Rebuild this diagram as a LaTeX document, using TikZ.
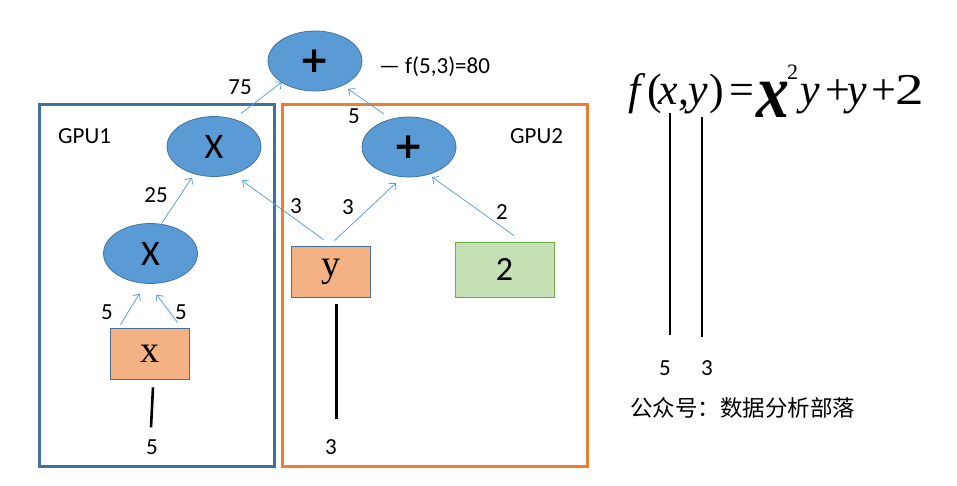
\documentclass[tikz,border=0pt]{standalone}
\usepackage{graphicx}
\usepackage{fontspec}
\setmainfont{Carlito}
\newfontfamily\seriffont{Liberation Serif}
\newfontfamily\cjkfont{Noto Sans CJK SC}
\newfontfamily\dvfont{DejaVu Sans}
\usetikzlibrary{shapes.geometric,arrows.meta,calc}
\definecolor{ellfill}{HTML}{5B9BD5}
\definecolor{elldraw}{HTML}{41719C}
\definecolor{gpublue}{HTML}{41719C}
\definecolor{gpuorange}{HTML}{ED7D31}
\definecolor{boxfill}{HTML}{F4B183}
\definecolor{greenfill}{HTML}{C5E0B4}
\definecolor{greendraw}{HTML}{70AD47}
\definecolor{arrcol}{HTML}{5B9BD5}
\begin{document}
\begin{tikzpicture}[x=1pt,y=-1pt,
  op/.style={ellipse, draw=elldraw, line width=0.75pt, fill=ellfill, minimum width=94pt, minimum height=60pt, inner sep=0pt},
  optext/.style={font=\fontsize{36}{36}\selectfont},
  plustext/.style={font=\dvfont\bfseries\fontsize{36}{36}\selectfont},
  varbox/.style={draw=elldraw, line width=0.75pt, fill=boxfill, minimum width=79pt, minimum height=51pt, inner sep=0pt, font=\seriffont\fontsize{38}{38}\selectfont},
  constbox/.style={draw=greendraw, line width=0.75pt, fill=greenfill, minimum width=99pt, minimum height=55pt, inner sep=0pt, font=\fontsize{34}{34}\selectfont},
  gpuone/.style={draw=gpublue, line width=3pt, minimum width=235pt, minimum height=361pt, inner sep=0pt},
  gputwo/.style={draw=gpuorange, line width=3pt, minimum width=305pt, minimum height=361pt, inner sep=0pt},
  lbl/.style={font=\fontsize{23}{23}\selectfont, inner sep=0pt},
  arr/.style={draw=arrcol, line width=0.75pt, -{Straight Barb[length=5pt,width=9pt]}},
  wire/.style={draw=black, line width=2.6pt}
]
\useasboundingbox (0,0) rectangle (957,486);

% GPU containers
\node[gpuone] (g1) at (156.5,285.5) {};
\node[gputwo] (g2) at (434.5,285.5) {};

% operation nodes
\node[op, plustext] (Ptop) at (315,61) {+};
\node[op, optext] (Xu) at (214,146.5) {X};
\node[op, plustext] (Pr) at (409,147) {+};
\node[op, optext] (Xl) at (150.5,253.5) {X};

% variable / constant boxes
\node[varbox] (xbox) at (150,353.5) {x};
\node[varbox] (ybox) at (331,271.5) {y};
\node[constbox] (tbox) at (504.5,269.5) {2};

% labels
\node[lbl] (lg1) at (84.5,136.5) {GPU1};
\node[lbl] (lg2) at (536.5,136) {GPU2};
\node[lbl] (l75) at (240,87.5) {75};
\node[lbl] (l5a) at (354,116) {5};
\node[lbl] (l25) at (156,195) {25};
\node[lbl] (l3a) at (296,206) {3};
\node[lbl] (l3b) at (348,207) {3};
\node[lbl] (l2) at (502,212) {2};
\node[lbl] (l5b) at (107,312) {5};
\node[lbl] (l5c) at (181,312) {5};
\node[lbl, anchor=west] (lres) at (379,67) {— f(5,3)=80};
\node[lbl] (lx5) at (152,447) {5};
\node[lbl] (ly3) at (331,447) {3};

% arrows
\draw[arr] ($(Xu)+(27,-33)$) -- ($(Ptop)+(-33,21)$);
\draw[arr] ($(Pr)+(-25,-33)$) -- ($(Ptop)+(33,28)$);
\draw[arr] ($(Xl)+(11,-30)$) -- ($(Xu)+(-22,31)$);
\draw[arr] ($(ybox.north)+(-7.5,-6)$) -- ($(Xu)+(28,34)$);
\draw[arr] ($(ybox.north)+(3.5,-5)$) -- ($(Pr)+(-13,36)$);
\draw[arr] ($(tbox.north)+(9.5,-6)$) -- ($(Pr)+(23,30)$);
\draw[arr] ($(xbox.north)+(-29.5,-3)$) -- ($(Xl)+(-11,40)$);
\draw[arr] ($(xbox.north)+(27.5,-5)$) -- ($(Xl)+(6,41)$);

% value wires
\draw[wire] ($(xbox.south)+(3,8)$) -- ($(lx5.north)+(-1,-12)$);
\draw[wire] ($(ybox.south)+(5.5,7)$) -- ($(ly3.north)+(5.5,-20)$);

% formula
\node[anchor=base west, inner sep=0pt, font=\seriffont\fontsize{44}{44}\selectfont] (formula) at (628,105)
  {\makebox[19pt][l]{\itshape f}\makebox[11pt][l]{(}\makebox[20pt][l]{\itshape x}\makebox[10pt][l]{,}\makebox[21pt][l]{\itshape y}\makebox[20pt][l]{)}\makebox[27pt][l]{=}\makebox[31pt][l]{\raisebox{-13pt}{\scalebox{1.5}[1.75]{\bfseries\itshape x}}}\makebox[13pt][l]{\raisebox{25pt}{\fontsize{22}{22}\selectfont 2}}\makebox[25pt][l]{\itshape y}\makebox[22pt][l]{+}\makebox[24pt][l]{\itshape y}\makebox[24pt][l]{+}\scalebox{1.3}[1]{2}};
\coordinate (fx) at (670,113);
\coordinate (fy) at (702,117);
\node[lbl] (r5) at (665,368) {5};
\node[lbl] (r3) at (707,368) {3};
\draw[wire] (fx) -- ($(r5.north)+(5,-25)$);
\draw[wire] (fy) -- ($(r3.north)+(-5,-23)$);
\node[inner sep=0pt, font=\cjkfont\fontsize{22.5}{22.5}\selectfont] (credit) at (742.5,408) {公众号：数据分析部落};
\end{tikzpicture}
\end{document}
